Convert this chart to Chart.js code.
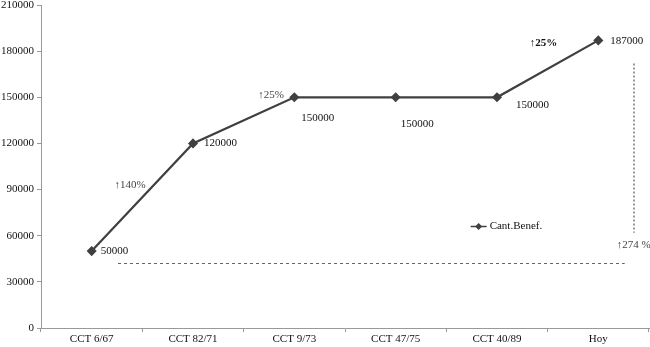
<!DOCTYPE html>
<html>
<head>
<meta charset="utf-8">
<script src="https://cdn.jsdelivr.net/npm/chart.js@4"></script>
<style>
  html, body { margin: 0; padding: 0; background: #fff; overflow: hidden; }
  canvas { display: block; }
</style>
</head>
<body>
<canvas id="chart" width="650" height="347"></canvas>
<script>
// chart data
const categories = ["CCT 6/67", "CCT 82/71", "CCT 9/73", "CCT 47/75", "CCT 40/89", "Hoy"];
const beneficiarios = [50000, 120000, 150000, 150000, 150000, 187000];
const yTicks = [0, 30000, 60000, 90000, 120000, 150000, 180000, 210000];
const seriesName = "Cant.Benef.";
const pctLabels = ["↑140%", "↑25%", "↑25%", "↑274 %"];

const FONT = "'Liberation Serif', 'Times New Roman', serif";

// offsets of the value labels next to each point (dx, dy in px)
const labelOffsets = [[9, 0], [11, 0], [7, 21], [5, 27], [19, 8], [12, 1]];

// percentage notes: [index, value, bold]
const pctSpots = [[0.38, 93000, false], [1.77, 151500, false], [4.46, 185300, true], [5.35, 54000, false]];

const annotations = {
    id: "annotations",
    afterDatasetsDraw(chart) {
        const ctx = chart.ctx;
        const x = chart.scales.x, y = chart.scales.y;
        const meta = chart.getDatasetMeta(0);
        ctx.save();
        ctx.fillStyle = "#111";
        ctx.textBaseline = "middle";
        ctx.textAlign = "left";
        ctx.font = "11px " + FONT;
        // value labels
        meta.data.forEach((pt, i) => {
            const o = labelOffsets[i];
            ctx.fillText(String(beneficiarios[i]), pt.x + o[0], pt.y + o[1]);
        });
        // percentage notes
        ctx.textAlign = "center";
        pctSpots.forEach((s, i) => {
            ctx.font = (s[2] ? "bold " : "") + "11px " + FONT;
            ctx.fillStyle = s[2] ? "#111" : "#444";
            ctx.fillText(pctLabels[i], x.getPixelForValue(s[0]), y.getPixelForValue(s[1]));
        });
        // dashed baseline
        ctx.strokeStyle = "#666";
        ctx.lineWidth = 1;
        ctx.setLineDash([3, 3]);
        const yb = Math.round(y.getPixelForValue(42000)) + 0.5;
        ctx.beginPath();
        ctx.moveTo(x.getPixelForValue(0.26), yb);
        ctx.lineTo(x.getPixelForValue(5.26), yb);
        ctx.stroke();
        // dotted vertical
        ctx.strokeStyle = "#999";
        ctx.lineWidth = 2;
        ctx.setLineDash([2, 2]);
        const xv = Math.round(x.getPixelForValue(5.355));
        ctx.beginPath();
        ctx.moveTo(xv, y.getPixelForValue(172000));
        ctx.lineTo(xv, y.getPixelForValue(62000));
        ctx.stroke();
        // legend
        ctx.setLineDash([]);
        const lx = x.getPixelForValue(3.74), ly = Math.round(y.getPixelForValue(66000)) + 0.5;
        ctx.strokeStyle = "#404040";
        ctx.lineWidth = 1.5;
        ctx.beginPath();
        ctx.moveTo(lx, ly);
        ctx.lineTo(lx + 16, ly);
        ctx.stroke();
        ctx.fillStyle = "#404040";
        ctx.beginPath();
        ctx.moveTo(lx + 8, ly - 3.5);
        ctx.lineTo(lx + 11.5, ly);
        ctx.lineTo(lx + 8, ly + 3.5);
        ctx.lineTo(lx + 4.5, ly);
        ctx.closePath();
        ctx.fill();
        ctx.fillStyle = "#111";
        ctx.textAlign = "left";
        ctx.font = "11px " + FONT;
        ctx.fillText(seriesName, lx + 19, ly);
        ctx.restore();
    }
};

new Chart(document.getElementById("chart"), {
    type: "line",
    data: {
        labels: categories,
        datasets: [{
            label: seriesName,
            data: beneficiarios,
            borderColor: "#404040",
            backgroundColor: "#404040",
            borderWidth: 2.2,
            pointStyle: "rectRot",
            pointRadius: 3.5,
            pointHoverRadius: 3.5,
            tension: 0
        }]
    },
    options: {
        responsive: false,
        animation: false,
        layout: { padding: 0, autoPadding: false },
        plugins: {
            legend: { display: false },
            tooltip: { enabled: false }
        },
        scales: {
            x: {
                offset: true,
                afterFit(axis) { axis.paddingLeft = 0; axis.paddingRight = 1; axis.height = 19; },
                grid: { display: true, drawOnChartArea: false, offset: true, color: "#999", tickLength: 4 },
                border: { color: "#999" },
                ticks: { color: "#111", font: { family: FONT, size: 11 }, padding: 1, maxRotation: 0 }
            },
            y: {
                min: 0,
                max: 210000,
                afterBuildTicks(axis) { axis.ticks = yTicks.map(v => ({ value: v })); },
                afterFit(axis) { axis.width = 41; axis.paddingTop = 5; axis.paddingBottom = 0; },
                grid: { display: true, drawOnChartArea: false, color: "#999", tickLength: 4 },
                border: { color: "#999" },
                ticks: {
                    color: "#111",
                    font: { family: FONT, size: 11 },
                    padding: 3,
                    callback: v => String(v)
                }
            }
        }
    },
    plugins: [annotations]
});
</script>
</body>
</html>
